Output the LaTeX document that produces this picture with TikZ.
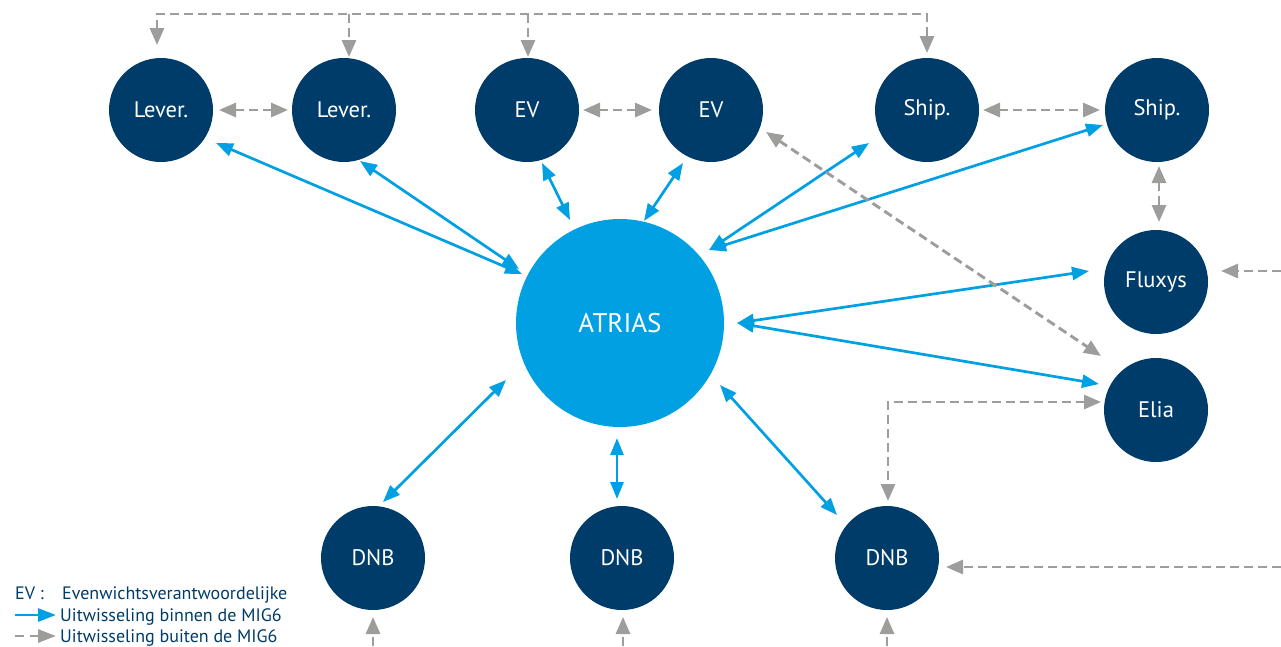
\documentclass[tikz,border=0pt]{standalone}
\usepackage{fontspec}
\setmainfont{PT Sans}
\usetikzlibrary{arrows.meta,calc}
\definecolor{navy}{RGB}{0,60,105}
\definecolor{cyanb}{RGB}{0,160,227}
\definecolor{greyd}{RGB}{157,157,156}
\begin{document}
\begin{tikzpicture}[x=1pt,y=-1pt,
  party/.style={circle,fill=navy,minimum size=104pt,inner sep=0pt,text=white,font=\fontsize{22.5}{22.5}\selectfont},
  hub/.style={circle,fill=cyanb,minimum size=208pt,inner sep=0pt,text=white,font=\fontsize{27}{27}\selectfont},
  btip/.tip={Triangle[length=17pt,width=13pt]},
  gtip/.tip={Triangle[length=17pt,width=14pt]},
  inmig/.style={draw=cyanb,line width=2.7pt,btip-btip},
  outmig/.style={draw=greyd,line width=2.9pt,dash pattern=on 9pt off 5pt,gtip-gtip},
  outone/.style={draw=greyd,line width=2.9pt,dash pattern=on 9pt off 5pt,-gtip},
  legtext/.style={anchor=base west,inner sep=0pt,text=navy,font=\fontsize{18}{18}\selectfont}]
\useasboundingbox (0,0) rectangle (1281,646);

% nodes
\node[party] (lev1) at (161,110) {Lever.};
\node[party] (lev2) at (344,110) {Lever.};
\node[party] (ev1) at (527,110) {EV};
\node[party] (ev2) at (711,110) {EV};
\node[party] (ship1) at (927,110) {Ship.};
\node[party] (ship2) at (1157,110) {Ship.};
\node[party] (fluxys) at (1156,282) {Fluxys};
\node[party] (elia) at (1156,410) {Elia};
\node[hub] (atrias) at (620,323) {ATRIAS};
\node[party] (dnb1) at (373,558) {DNB};
\node[party] (dnb2) at (622,558) {DNB};
\node[party] (dnb3) at (887,558) {DNB};

% blue connector ends
\coordinate (lev1-a) at ($(lev1)+(55,33)$);
\coordinate (atr-l1) at ($(atrias)+(-98,-49)$);
\coordinate (lev2-a) at ($(lev2)+(16,51)$);
\coordinate (atr-l2) at ($(atrias)+(-101,-54)$);
\coordinate (ev1-a) at ($(ev1)+(15,53)$);
\coordinate (atr-e1) at ($(atrias)+(-50,-103)$);
\coordinate (ev2-a) at ($(ev2)+(-28,53)$);
\coordinate (atr-e2) at ($(atrias)+(24,-102)$);
\coordinate (ship1-a) at ($(ship1)+(-58,33)$);
\coordinate (ship2-a) at ($(ship2)+(-54,15)$);
\coordinate (atr-s) at ($(atrias)+(89,-73)$);
\coordinate (flux-a) at ($(fluxys)+(-67,-11)$);
\coordinate (elia-a) at ($(elia)+(-57,-26)$);
\coordinate (atr-r) at ($(atrias)+(117,0)$);
\coordinate (dnb1-a) at ($(dnb1)+(10,-56)$);
\coordinate (atr-d1) at ($(atrias)+(-114,57)$);
\coordinate (dnb2-a) at ($(dnb2)+(-5,-59)$);
\coordinate (atr-d2) at ($(atrias)+(-3,115)$);
\coordinate (dnb3-a) at ($(dnb3)+(-50,-43)$);
\coordinate (atr-d3) at ($(atrias)+(100,62)$);

\draw[inmig] (lev1-a) -- (atr-l1);
\draw[inmig] (lev2-a) -- (atr-l2);
\draw[inmig] (ev1-a) -- (atr-e1);
\draw[inmig] (ev2-a) -- (atr-e2);
\draw[inmig] (ship1-a) -- (atr-s);
\draw[inmig] (ship2-a) -- (atr-s);
\draw[inmig] (flux-a) -- (atr-r);
\draw[inmig] (elia-a) -- (atr-r);
\draw[inmig] (dnb1-a) -- (atr-d1);
\draw[inmig] (dnb2-a) -- (atr-d2);
\draw[inmig] (dnb3-a) -- (atr-d3);

% grey connector ends
\coordinate (bus1) at (157,14);
\coordinate (bus2) at (349,14);
\coordinate (bus3) at (528,14);
\coordinate (bus4) at (927,14);
\coordinate (lev1-t) at ($(lev1)+(-4,-65)$);
\coordinate (lev2-t) at ($(lev2)+(5,-53)$);
\coordinate (ev1-t) at ($(ev1)+(1,-53)$);
\coordinate (ship1-t) at ($(ship1)+(0,-57)$);
\coordinate (lev1-r) at ($(lev1)+(58,0)$);
\coordinate (lev2-l) at ($(lev2)+(-56,0)$);
\coordinate (ev1-r) at ($(ev1)+(56,0)$);
\coordinate (ev2-l) at ($(ev2)+(-59,0)$);
\coordinate (ship1-r) at ($(ship1)+(56,0)$);
\coordinate (ship2-l) at ($(ship2)+(-57,0)$);
\coordinate (ship2-b) at ($(ship2)+(2,56)$);
\coordinate (flux-t) at ($(fluxys)+(3,-60)$);
\coordinate (ev2-d) at ($(ev2)+(55,22)$);
\coordinate (elia-u) at ($(elia)+(-55,-54)$);
\coordinate (flux-in) at (1281,271);
\coordinate (flux-r) at ($(fluxys)+(65,-11)$);
\coordinate (elia-l) at ($(elia)+(-55,-8)$);
\coordinate (corner) at (888,402);
\coordinate (dnb3-t) at ($(dnb3)+(1,-57)$);
\coordinate (dnb3-in) at (1281,567);
\coordinate (dnb3-r) at ($(dnb3)+(59,9)$);
\coordinate (dnb1-in) at (373,646);
\coordinate (dnb1-b) at ($(dnb1)+(0,59)$);
\coordinate (dnb2-in) at (623,646);
\coordinate (dnb2-b) at ($(dnb2)+(1,59)$);
\coordinate (dnb3-in2) at (887,646);
\coordinate (dnb3-b) at ($(dnb3)+(0,59)$);

\draw[outmig] (lev1-t) -- (bus1) -- (bus4) -- (ship1-t);
\draw[outone] (bus2) -- (lev2-t);
\draw[outone] (bus3) -- (ev1-t);
\draw[outmig] (lev1-r) -- (lev2-l);
\draw[outmig] (ev1-r) -- (ev2-l);
\draw[outmig] (ship1-r) -- (ship2-l);
\draw[outmig] (ship2-b) -- (flux-t);
\draw[outmig] (ev2-d) -- (elia-u);
\draw[outone] (flux-in) -- (flux-r);
\draw[outmig] (elia-l) -- (corner) -- (dnb3-t);
\draw[outone] (dnb3-in) -- (dnb3-r);
\draw[outone] (dnb1-in) -- (dnb1-b);
\draw[outone] (dnb2-in) -- (dnb2-b);
\draw[outone] (dnb3-in2) -- (dnb3-b);

% legend
\node[legtext] (evkey) at (15,599) {EV :};
\node[legtext] (evdef) at (62,599) {Evenwichtsverantwoordelijke};
\node[legtext] (binnen) at (60,621) {Uitwisseling binnen de MIG6};
\node[legtext] (buiten) at (60,642) {Uitwisseling buiten de MIG6};
\coordinate (k1s) at (15,615);
\coordinate (k1e) at (56,615);
\coordinate (k2s) at (15,636);
\coordinate (k2e) at (56,636);
\draw[draw=cyanb,line width=2.9pt,-{Triangle[length=18pt,width=13pt]}] (k1s) -- (k1e);
\draw[draw=greyd,line width=2.9pt,dash pattern=on 9pt off 6pt,-{Triangle[length=18pt,width=13pt]}] (k2s) -- (k2e);
\end{tikzpicture}
\end{document}
